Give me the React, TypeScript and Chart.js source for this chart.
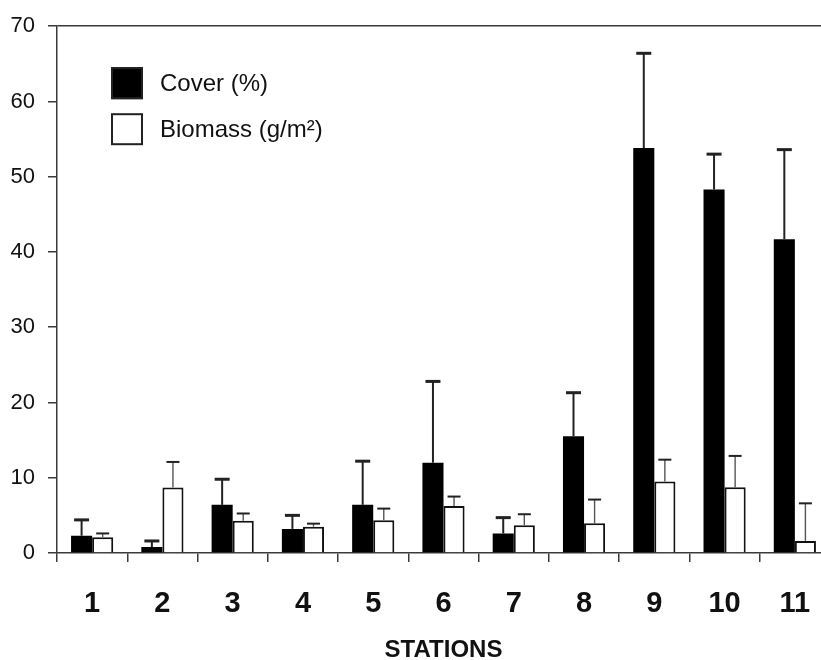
import React, { useEffect, useRef } from "react";
import { Chart, registerables } from "chart.js";

Chart.register(...registerables);

const stations = ["1", "2", "3", "4", "5", "6", "7", "8", "9", "10", "11"];
const coverMean = [2.3, 0.8, 6.4, 3.2, 6.4, 12.0, 2.6, 15.5, 53.8, 48.3, 41.7];
const coverSD = [2.1, 0.8, 3.4, 1.8, 5.8, 10.8, 2.1, 5.8, 12.6, 4.7, 11.9];
const biomassMean = [2.1, 8.7, 4.3, 3.5, 4.35, 6.25, 3.7, 3.95, 9.5, 8.75, 1.6];
const biomassSD = [0.5, 3.4, 0.95, 0.4, 1.55, 1.25, 1.45, 3.15, 2.9, 4.15, 5.0];
const yTicks = [0, 10, 20, 30, 40, 50, 60, 70];
const seriesLabels = ["Cover (%)", "Biomass (g/m\u00B2)"];
const axisTitle = "STATIONS";

const FONT = "'Liberation Sans', Arial, Helvetica, sans-serif";
const AXIS = "#3a3a3a";

const errorStyles = [
  { sd: coverSD, color: "#222", width: 2, capW: 15, capLine: 3 },
  { sd: biomassSD, color: "#555", width: 1.4, capW: 13, capLine: 2 },
];

const errorBarPlugin = {
  id: "errorBars",
  afterDatasetsDraw(chart: any) {
    const ctx = chart.ctx;
    const y = chart.scales.y;
    chart.data.datasets.forEach((ds: any, di: number) => {
      const st = errorStyles[di];
      const meta = chart.getDatasetMeta(di);
      meta.data.forEach((bar: any, i: number) => {
        const v = ds.data[i] as number;
        const top = y.getPixelForValue(v + st.sd[i]);
        const x = bar.x;
        ctx.save();
        ctx.strokeStyle = st.color;
        ctx.lineWidth = st.width;
        ctx.beginPath();
        ctx.moveTo(x, bar.y);
        ctx.lineTo(x, top);
        ctx.stroke();
        ctx.strokeStyle = "#222";
        ctx.lineWidth = st.capLine;
        ctx.beginPath();
        ctx.moveTo(x - st.capW / 2, top);
        ctx.lineTo(x + st.capW / 2, top);
        ctx.stroke();
        ctx.restore();
      });
    });
  },
};

const legendPlugin = {
  id: "boxLegend",
  afterDraw(chart: any) {
    const ctx = chart.ctx;
    const area = chart.chartArea;
    const bx = area.left + 54;
    const by0 = area.top + 41;
    const step = 46;
    const size = 32;
    chart.data.datasets.forEach((ds: any, i: number) => {
      const by = by0 + i * step;
      ctx.save();
      ctx.fillStyle = ds.backgroundColor;
      ctx.fillRect(bx, by, size, size);
      ctx.strokeStyle = "#222";
      ctx.lineWidth = 2;
      ctx.strokeRect(bx + 1, by + 1, size - 2, size - 2);
      ctx.fillStyle = "#111";
      ctx.font = `24px ${FONT}`;
      ctx.textBaseline = "middle";
      ctx.textAlign = "left";
      ctx.fillText(ds.label, bx + size + 17, by + size / 2 + 1);
      ctx.restore();
    });
  },
};

export default function App() {
  const ref = useRef<HTMLCanvasElement | null>(null);
  useEffect(() => {
    if (!ref.current) return;
    const chart = new Chart(ref.current, {
      type: "bar",
      data: {
        labels: stations,
        datasets: [
          {
            label: seriesLabels[0],
            data: coverMean,
            backgroundColor: "#000",
            borderColor: "#000",
            borderWidth: 0,
            categoryPercentage: 0.6,
            barPercentage: 1,
          },
          {
            label: seriesLabels[1],
            data: biomassMean,
            backgroundColor: "#fff",
            borderColor: "#111",
            borderWidth: 2,
            categoryPercentage: 0.6,
            barPercentage: 1,
          },
        ],
      },
      options: {
        responsive: false,
        animation: false,
        devicePixelRatio: 1,
        layout: { padding: { top: 23, left: 0, right: 0, bottom: 0 } },
        plugins: {
          legend: { display: false },
          tooltip: { enabled: false },
        },
        scales: {
          x: {
            offset: true,
            grid: {
              offset: true,
              drawOnChartArea: false,
              drawTicks: true,
              tickLength: 9,
              color: AXIS,
              lineWidth: 1.5,
            },
            border: { display: true, color: AXIS, width: 1.5 },
            ticks: {
              color: "#111",
              padding: 25,
              maxRotation: 0,
              minRotation: 0,
              autoSkip: false,
              font: { family: FONT, size: 29, weight: "bold" },
            },
            title: {
              display: true,
              text: axisTitle,
              color: "#111",
              font: { family: FONT, size: 24, weight: "bold" },
              padding: { top: 0, bottom: 15 },
            },
            afterFit(axis: any) {
              axis.height = 680 - 553;
              axis.paddingLeft = 0;
              axis.paddingRight = 0;
            },
          },
          y: {
            min: 0,
            max: 70,
            afterBuildTicks(axis: any) {
              axis.ticks = yTicks.map((v) => ({ value: v }));
            },
            grid: {
              drawOnChartArea: true,
              drawTicks: true,
              tickLength: 9,
              color: (c: any) =>
                c.tick && c.tick.value === 70 ? AXIS : "rgba(0,0,0,0)",
              tickColor: AXIS,
              lineWidth: 1.5,
            },
            border: { display: true, color: AXIS, width: 1.5 },
            ticks: {
              color: "#111",
              padding: 13,
              font: { family: FONT, size: 22 },
            },
            afterFit(axis: any) {
              axis.width = 57;
            },
          },
        },
      },
      plugins: [errorBarPlugin, legendPlugin],
    } as any);
    return () => chart.destroy();
  }, []);
  return (
    <div
      style={{
        position: "fixed",
        left: 0,
        top: 0,
        width: 821,
        height: 660,
        overflow: "hidden",
        background: "#fff",
      }}
    >
      <canvas
        ref={ref}
        width={830}
        height={680}
        style={{ width: 830, height: 680, display: "block" }}
      />
    </div>
  );
}
